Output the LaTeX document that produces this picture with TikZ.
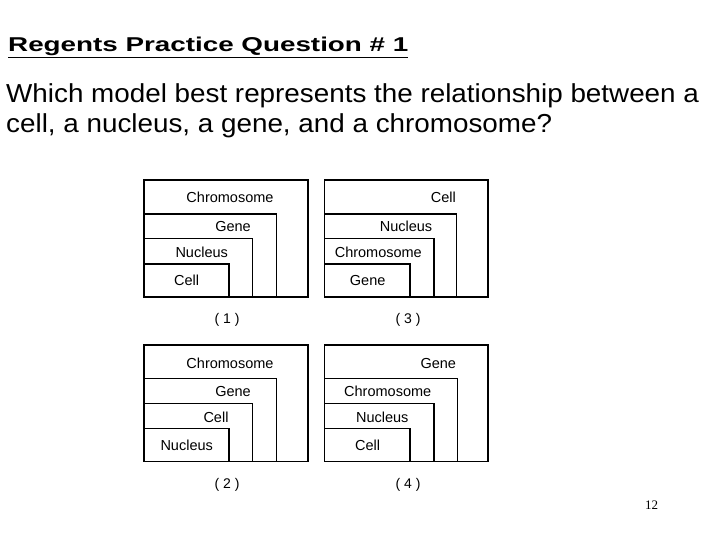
\documentclass[tikz,border=0pt]{standalone}
\usepackage{fontspec}
\setmainfont{Liberation Sans}
\newfontfamily\pagefont{Liberation Serif}

\tikzset{
  nest/.style={draw,line width=1.5pt},
  word/.style={inner sep=0pt,anchor=base,font=\fontsize{14.5}{16}\selectfont},
  tag/.style={inner sep=0pt,anchor=base,font=\fontsize{14}{16}\selectfont},
  asks/.style={inner sep=0pt,anchor=base west,font=\fontsize{26}{30}\selectfont},
}

\begin{document}
\begin{tikzpicture}[x=1pt,y=-1pt]
  \useasboundingbox (0,0) rectangle (720,540);

  % heading and question
  \node (title) [inner sep=0pt,anchor=base west,font=\fontsize{20}{24}\bfseries\selectfont]
    at (8,51.5) {\scalebox{1.39}[1]{\underline{Regents Practice Question \# 1}}};
  \node (q1) [asks] at (6,103) {\scalebox{1.07}[1]{Which model best represents the relationship between a}};
  \node (q2) [asks] at (6,133) {\scalebox{1.07}[1]{cell, a nucleus, a gene, and a chromosome?}};

  % model 1
  \draw[nest] (144,180)   rectangle (308,297);
  \draw[nest] (144,214)   rectangle (276.7,297);
  \draw[nest] (144,238.3) rectangle (252.3,297);
  \draw[nest] (144,264)   rectangle (229,297);
  \node (chromA) [word] at (230,203)   {Chromosome};
  \node (geneA)  [word] at (233,232)   {Gene};
  \node (nucA)   [word] at (201.7,257) {Nucleus};
  \node (cellA)  [word] at (186.7,285) {Cell};
  \node (one)    [tag]  at (227,323.5) {( 1 )};

  % model 3
  \draw[nest] (324.7,180)   rectangle (488,297);
  \draw[nest] (324.7,214)   rectangle (456.7,297);
  \draw[nest] (324.7,238.3) rectangle (434,297);
  \draw[nest] (324.7,264)   rectangle (410,297);
  \node (cellC)  [word] at (443.3,203) {Cell};
  \node (nucC)   [word] at (406,232)   {Nucleus};
  \node (chromC) [word] at (378.3,257) {Chromosome};
  \node (geneC)  [word] at (367.7,285) {Gene};
  \node (three)  [tag]  at (408,323.5) {( 3 )};

  % model 2
  \draw[nest] (144,345)   rectangle (308,461.7);
  \draw[nest] (144,378.3) rectangle (276.7,461.7);
  \draw[nest] (144,403.3) rectangle (252.3,461.7);
  \draw[nest] (144,428.3) rectangle (229,461.7);
  \node (chromB) [word] at (230,368)   {Chromosome};
  \node (geneB)  [word] at (233,396.3) {Gene};
  \node (cellB)  [word] at (216,422)   {Cell};
  \node (nucB)   [word] at (186.7,450.3) {Nucleus};
  \node (two)    [tag]  at (227,488.2) {( 2 )};

  % model 4
  \draw[nest] (324.7,345)   rectangle (488,461.7);
  \draw[nest] (324.7,378.3) rectangle (457.3,461.7);
  \draw[nest] (324.7,403.3) rectangle (434,461.7);
  \draw[nest] (324.7,428.3) rectangle (410,461.7);
  \node (geneD)  [word] at (438.3,368)   {Gene};
  \node (chromD) [word] at (387.7,396.3) {Chromosome};
  \node (nucD)   [word] at (382.3,422)   {Nucleus};
  \node (cellD)  [word] at (367.7,450.3) {Cell};
  \node (four)   [tag]  at (408,488.2)   {( 4 )};

  % slide number
  \node (num) [inner sep=0pt,font=\pagefont\fontsize{13}{15}\selectfont] at (651.7,505) {12};
\end{tikzpicture}
\end{document}
